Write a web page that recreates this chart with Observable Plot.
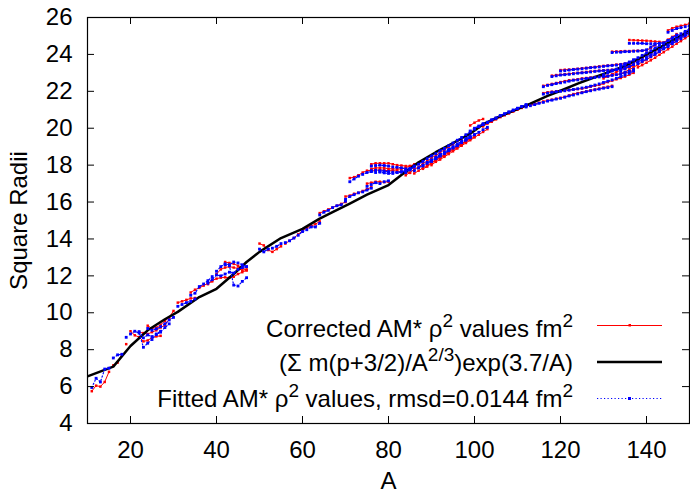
<!DOCTYPE html>
<html><head><meta charset="utf-8">
<script src="https://cdn.jsdelivr.net/npm/d3@7"></script>
<script src="https://cdn.jsdelivr.net/npm/@observablehq/plot@0.6"></script>
<style>
body{margin:0;background:#fff;}
#wrap{position:relative;width:690px;height:492px;font-family:"Liberation Sans",Arial,sans-serif;color:#000;}
.lt{position:absolute;right:117px;font-size:24px;line-height:24px;white-space:nowrap;text-align:right;}
.lt sup{font-size:19px;position:relative;top:-10px;vertical-align:baseline;line-height:0;}
#legsvg{position:absolute;left:0;top:0;}
</style></head><body><div id="wrap"></div>
<script>
// axis ticks
const xTicks = [20, 40, 60, 80, 100, 120, 140];
const yTicks = [4, 6, 8, 10, 12, 14, 16, 18, 20, 22, 24, 26];

// formula curve (Σ m(p+3/2)/A^{2/3}) exp(3.7/A)
const curveA  = [10, 16, 20, 24, 28, 31, 36, 40, 44, 47, 50, 55, 60, 64, 67, 71, 75, 80, 83, 87, 91, 95, 99, 102, 106, 110, 113, 117, 120, 124, 127, 131, 135, 139, 142, 146, 150];
const curveR2 = [6.55, 7.08, 8.2, 9.05, 9.65, 10.05, 10.85, 11.3, 12.1, 12.75, 13.3, 14.05, 14.55, 15.1, 15.45, 15.92, 16.4, 16.92, 17.47, 18.15, 18.7, 19.2, 19.7, 20.22, 20.65, 21.04, 21.33, 21.75, 22.03, 22.42, 22.68, 23.03, 23.38, 23.86, 24.24, 24.75, 25.26];

// isotope chains: first mass number of each chain
const chainStartA = [11, 16, 19, 20, 22, 24, 31, 34, 38, 40, 42, 50, 56, 64, 71, 76, 76, 75, 70, 84, 86, 88, 90, 99, 100, 102, 112, 116, 116, 118, 120, 132, 136, 145, 130, 134, 138];

// corrected AM* rho^2 values (fm^2)
const correctedR2 = [
  [5.75, 6.05, 6.0, 6.25, 6.8],
  [7.15, 7.3, 7.75],
  [8.3],
  [9.0, 8.78, 8.68, 8.45, 8.5, 8.65, 8.72, 8.75],
  [8.95, 8.9, 8.85, 8.95, 9.05, 9.2, 9.32, 9.65],
  [9.3, 9.15, 9.2, 9.35, 9.55, 9.75, 10.1],
  [10.55, 10.62, 10.7, 10.78, 10.8],
  [11.1, 11.25, 11.35, 11.47, 11.6, 11.7],
  [11.55, 11.75, 11.85, 11.9, 11.92, 11.9, 11.95, 12.1, 12.2, 12.3],
  [12.1, 12.35, 12.45, 12.5, 12.45, 12.4, 12.3, 12.35],
  [12.75, 12.7, 12.65, 12.55, 12.45, 12.3],
  [13.75, 13.65, 13.4, 13.3, 13.45, 13.6],
  [13.75, 13.9, 14.05, 14.25, 14.45, 14.6, 14.7, 14.8, 14.95],
  [15.4, 15.5, 15.6, 15.7, 15.8, 15.9, 16.0],
  [17.3, 17.35, 17.45, 17.6, 17.7, 17.72, 17.72, 17.75, 17.72, 17.7, 17.7, 17.68, 17.65, 17.6, 17.58],
  [18.05, 18.1, 18.1, 18.1, 18.1, 18.05, 18.0, 17.98, 17.95, 17.95],
  [17.8, 17.85, 17.85, 17.85, 17.8, 17.8, 17.78, 17.8, 17.85, 17.95, 18.05],
  [17.0, 17.05, 17.1, 17.1, 17.08, 17.1],
  [16.3, 16.35, 16.45, 16.5, 16.6, 16.7, 16.8],
  [17.45, 17.6, 17.78, 17.9, 18.08, 18.22, 18.4, 18.52, 18.68, 18.83, 19.0, 19.12, 19.3, 19.42, 19.6, 19.75],
  [17.55, 17.7, 17.85, 18.0, 18.12, 18.3, 18.42, 18.58, 18.72, 18.88, 19.0, 19.15, 19.32, 19.45],
  [17.8, 17.92, 18.1, 18.25, 18.38, 18.52, 18.68, 18.82, 18.98, 19.1, 19.28, 19.4, 19.55],
  [18.0, 18.18, 18.3, 18.45, 18.6, 18.75, 18.9, 19.05, 19.2, 19.35, 19.5, 19.65, 19.8, 19.95],
  [20.15, 20.3, 20.42, 20.5],
  [19.92, 20.05, 20.18, 20.3, 20.42, 20.55, 20.65, 20.75, 20.85, 20.95, 21.05, 21.15, 21.22],
  [20.1, 20.25, 20.35, 20.48, 20.6, 20.7, 20.8, 20.9, 21.0, 21.1, 21.2],
  [21.2, 21.25, 21.32, 21.38, 21.45, 21.5, 21.55, 21.6, 21.65, 21.7, 21.78, 21.85, 21.9, 21.95, 22.0, 22.05, 22.1, 22.15, 22.2, 22.25, 22.3],
  [22.3, 22.35, 22.4, 22.45, 22.5, 22.55, 22.6, 22.62, 22.65, 22.7, 22.72, 22.75, 22.78, 22.8, 22.82, 22.85, 22.88, 22.9, 22.95, 23.0, 23.05, 23.15],
  [21.9, 21.95, 21.98, 22.0, 22.02, 22.05, 22.08, 22.1, 22.12, 22.15, 22.2, 22.25, 22.3, 22.35, 22.42, 22.5, 22.58, 22.65, 22.72, 22.8, 22.9, 23.0],
  [22.85, 22.88, 22.9, 22.93, 22.95, 22.97, 23.0, 23.02, 23.05, 23.07, 23.1, 23.12, 23.14, 23.15, 23.17, 23.18, 23.2, 23.25, 23.3, 23.4],
  [23.15, 23.17, 23.18, 23.2, 23.22, 23.25, 23.27, 23.3, 23.32, 23.35, 23.38, 23.4, 23.42, 23.45, 23.47, 23.5, 23.55, 23.65],
  [24.15, 24.16, 24.17, 24.18, 24.18, 24.19, 24.2, 24.2, 24.22, 24.35, 24.5],
  [24.78, 24.77, 24.76, 24.75, 24.74, 24.72, 24.7, 24.68, 24.65, 24.8, 24.95, 25.1],
  [25.3, 25.42, 25.5, 25.55, 25.6, 25.67],
  [22.7, 22.8, 22.92, 23.05, 23.15, 23.28, 23.4, 23.55, 23.68, 23.8, 23.95, 24.08, 24.2, 24.35, 24.5, 24.62, 24.78, 24.92, 25.05, 25.2, 25.32],
  [22.95, 23.05, 23.18, 23.3, 23.45, 23.58, 23.72, 23.85, 24.0, 24.15, 24.3, 24.45, 24.6, 24.75, 24.9, 25.05, 25.2],
  [23.3, 23.42, 23.55, 23.68, 23.82, 23.98, 24.12, 24.28, 24.42, 24.58, 24.72, 24.88, 25.02]
];

// fitted AM* rho^2 values (fm^2)
const fittedR2 = [
  [5.95, 6.45, 6.25, 6.95, 7.0],
  [7.55, 7.72, 7.75],
  [8.67],
  [8.85, 9.0, 8.9, 8.13, 8.35, 8.55, 8.85, 9.0],
  [8.98, 8.64, 8.8, 8.71, 8.82, 8.95, 9.2, 9.4],
  [9.15, 9.05, 9.13, 9.25, 9.4, 9.61, 9.75],
  [10.35, 10.45, 10.55, 10.62, 10.75],
  [10.95, 11.06, 11.42, 11.56, 11.74, 11.96],
  [11.6, 11.8, 12.05, 12.0, 12.1, 12.2, 12.15, 12.35, 12.45, 12.5],
  [12.25, 12.5, 12.65, 12.6, 12.75, 12.7, 12.6, 12.5],
  [12.6, 12.55, 11.5, 11.45, 11.7, 11.9],
  [13.45, 13.3, 13.45, 13.5, 13.6, 13.75],
  [13.8, 13.9, 14.05, 14.2, 14.4, 14.5, 14.65, 14.65, 14.85],
  [15.3, 15.45, 15.55, 15.7, 15.8, 15.85, 16.05],
  [17.1, 17.25, 17.4, 17.5, 17.6, 17.65, 17.6, 17.62, 17.58, 17.55, 17.55, 17.6, 17.65, 17.7, 17.75],
  [17.95, 17.98, 18.0, 17.98, 17.95, 17.9, 17.88, 17.85, 17.8, 17.82],
  [17.7, 17.72, 17.7, 17.68, 17.65, 17.62, 17.6, 17.62, 17.7, 17.8, 17.95],
  [16.85, 16.95, 17.05, 17.0, 17.1, 17.15],
  [16.15, 16.3, 16.4, 16.5, 16.55, 16.65, 16.75],
  [17.6, 17.75, 17.9, 18.05, 18.2, 18.35, 18.5, 18.62, 18.78, 18.9, 19.05, 19.2, 19.35, 19.5, 19.65, 19.8],
  [17.7, 17.85, 18.0, 18.15, 18.28, 18.42, 18.58, 18.72, 18.85, 19.0, 19.15, 19.3, 19.45, 19.58],
  [17.95, 18.1, 18.22, 18.38, 18.5, 18.65, 18.8, 18.95, 19.08, 19.22, 19.38, 19.5, 19.65],
  [18.2, 18.35, 18.5, 18.62, 18.78, 18.92, 19.05, 19.22, 19.35, 19.5, 19.65, 19.78, 19.92, 20.05],
  [19.85, 20.0, 20.12, 20.25],
  [19.95, 20.08, 20.2, 20.32, 20.45, 20.55, 20.68, 20.78, 20.88, 20.98, 21.08, 21.18, 21.28],
  [20.2, 20.32, 20.45, 20.55, 20.68, 20.78, 20.88, 20.98, 21.08, 21.18, 21.26],
  [21.15, 21.22, 21.28, 21.35, 21.4, 21.47, 21.52, 21.58, 21.62, 21.68, 21.75, 21.8, 21.86, 21.92, 21.98, 22.03, 22.08, 22.12, 22.17, 22.2, 22.25],
  [22.25, 22.32, 22.36, 22.42, 22.46, 22.5, 22.55, 22.6, 22.62, 22.66, 22.7, 22.72, 22.75, 22.78, 22.8, 22.82, 22.86, 22.9, 22.95, 23.02, 23.1, 23.2],
  [21.85, 21.9, 21.95, 21.98, 22.0, 22.03, 22.06, 22.1, 22.14, 22.18, 22.22, 22.28, 22.34, 22.4, 22.48, 22.55, 22.62, 22.7, 22.8, 22.88, 22.98, 23.1],
  [22.8, 22.84, 22.88, 22.9, 22.92, 22.95, 22.98, 23.0, 23.02, 23.05, 23.08, 23.1, 23.12, 23.14, 23.15, 23.18, 23.2, 23.28, 23.35, 23.45],
  [23.1, 23.12, 23.15, 23.18, 23.2, 23.22, 23.25, 23.28, 23.3, 23.32, 23.35, 23.38, 23.4, 23.42, 23.45, 23.5, 23.58, 23.7],
  [24.1, 24.12, 24.12, 24.15, 24.15, 24.17, 24.18, 24.2, 24.25, 24.4, 24.55],
  [24.6, 24.6, 24.6, 24.6, 24.58, 24.58, 24.58, 24.6, 24.62, 24.75, 24.9, 25.05],
  [25.2, 25.3, 25.4, 25.45, 25.5, 25.55],
  [22.9, 23.0, 23.1, 23.2, 23.32, 23.45, 23.58, 23.7, 23.82, 23.95, 24.08, 24.2, 24.35, 24.48, 24.6, 24.75, 24.88, 25.0, 25.12, 25.25, 25.38],
  [23.1, 23.22, 23.35, 23.48, 23.6, 23.72, 23.85, 23.98, 24.1, 24.25, 24.4, 24.52, 24.68, 24.82, 24.95, 25.1, 25.25],
  [23.5, 23.62, 23.75, 23.88, 24.0, 24.15, 24.3, 24.42, 24.58, 24.72, 24.85, 25.0, 25.12]
];

// ---- build tables ----
const toRows = (sets) => sets.flatMap((vals, i) => vals.map((v, j) => ({A: chainStartA[i] + j, r2: v, chain: i})));
const redRows = toRows(correctedR2);
const blueRows = toRows(fittedR2);
const curveRows = curveA.map((a, i) => ({A: a, r2: curveR2[i]}));

const W = 690, H = 492, ML = 87, MR = 1, MT = 17, MB = 69;
const PW = W - ML - MR, PH = H - MT - MB, TL = 7;
const font = "'Liberation Sans', Arial, sans-serif";

const chart = Plot.plot({
  width: W, height: H,
  marginLeft: ML, marginRight: MR, marginTop: MT, marginBottom: MB,
  style: {fontFamily: font, fontSize: "24px", color: "#000", background: "#fff", overflow: "visible"},
  x: {domain: [10, 150]},
  y: {domain: [4, 26]},
  marks: [
    Plot.line(redRows, {x: "A", y: "r2", z: "chain", stroke: "#ff0000", strokeWidth: 1, clip: true}),
    Plot.dot(redRows, {x: "A", y: "r2", symbol: "square", r: 1.4, fill: "#ff0000", stroke: null, clip: true}),
    Plot.line(curveRows, {x: "A", y: "r2", stroke: "#000", strokeWidth: 2.5, clip: true}),
    Plot.line(blueRows, {x: "A", y: "r2", z: "chain", stroke: "#0000ff", strokeWidth: 1.2, strokeDasharray: "1.2,2.3", clip: true}),
    Plot.dot(blueRows, {x: "A", y: "r2", symbol: "square", r: 1.6, fill: "#0000ff", stroke: null, clip: true}),
    // inward ticks, mirrored
    Plot.ruleY(yTicks, {stroke: "#000", insetRight: PW - TL}),
    Plot.ruleY(yTicks, {stroke: "#000", insetLeft: PW - TL}),
    Plot.ruleX(xTicks, {stroke: "#000", insetTop: PH - TL}),
    Plot.ruleX(xTicks, {stroke: "#000", insetBottom: PH - TL}),
    Plot.frame({stroke: "#000", strokeWidth: 1.2}),
    Plot.axisX({ticks: xTicks, tickSize: 0, tickPadding: 17, fontSize: 24, label: "A", labelAnchor: "center", labelArrow: "none", labelOffset: 65}),
    Plot.axisY({ticks: yTicks, tickSize: 0, tickPadding: 15, fontSize: 24, label: "Square Radii", labelAnchor: "center", labelArrow: "none", labelOffset: 78})
  ]
});

const wrap = document.getElementById("wrap");
wrap.appendChild(chart);

// ---- legend (gnuplot-style key inside plot, bottom right) ----
const rows = [
  {html: "Corrected AM* &rho;<sup>2</sup> values fm<sup>2</sup>", top: 317},
  {html: "(&Sigma; m(p+3/2)/A<sup>2/3</sup>)exp(3.7/A)", top: 351},
  {html: "Fitted AM* &rho;<sup>2</sup> values, rmsd=0.0144 fm<sup>2</sup>", top: 387}
];
rows.forEach(r => {
  const d = document.createElement("div");
  d.className = "lt";
  d.style.top = r.top + "px";
  d.innerHTML = r.html;
  wrap.appendChild(d);
});
const ns = "http://www.w3.org/2000/svg";
const ls = document.createElementNS(ns, "svg");
ls.setAttribute("id", "legsvg");
ls.setAttribute("width", W); ls.setAttribute("height", H);
ls.innerHTML = `
  <line x1="597" x2="662" y1="325.5" y2="325.5" stroke="#ff0000" stroke-width="1"/>
  <rect x="628.5" y="324" width="2.5" height="2.5" fill="#ff0000"/>
  <line x1="597" x2="662" y1="362" y2="362" stroke="#000" stroke-width="2.5"/>
  <line x1="597" x2="662" y1="398.5" y2="398.5" stroke="#0000ff" stroke-width="1.2" stroke-dasharray="1.2,2.3"/>
  <rect x="628" y="397" width="3" height="3" fill="#0000ff"/>`;
wrap.appendChild(ls);
</script></body></html>
